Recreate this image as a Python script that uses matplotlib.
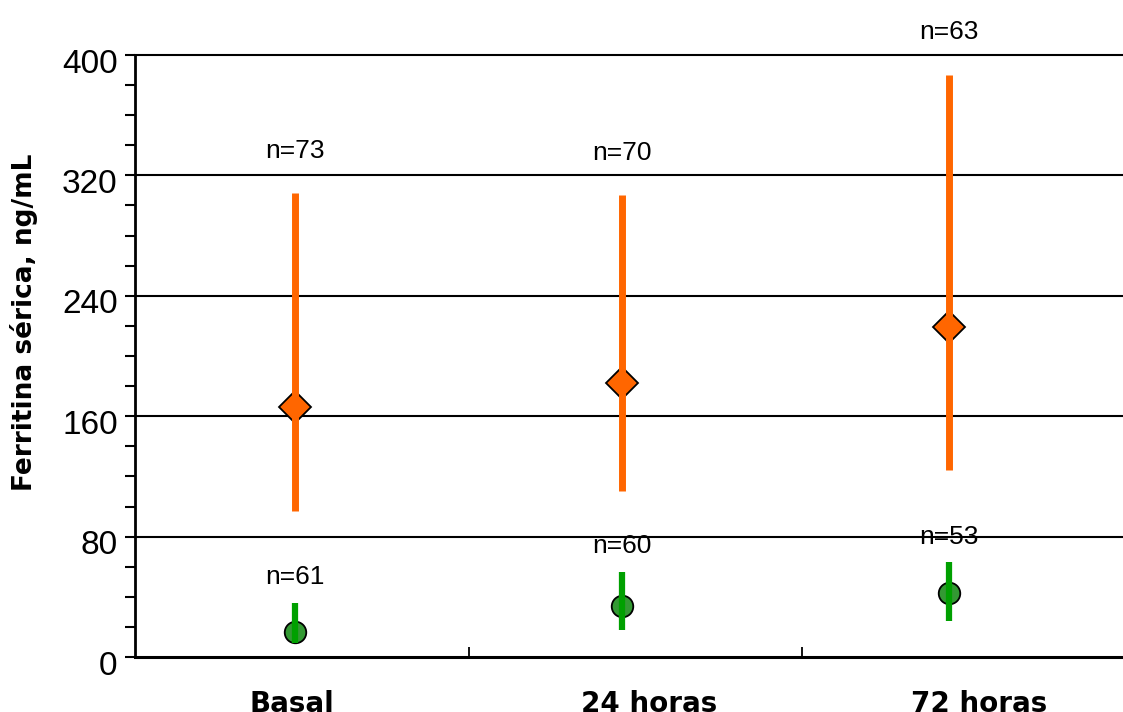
import numpy as np
import matplotlib
matplotlib.use("Agg")
from matplotlib import pyplot as plt
from matplotlib.ticker import MultipleLocator, FixedLocator, NullFormatter
import matplotlib.transforms as mtransforms

categories = ["Basal", "24 horas", "72 horas"]

# orange series (diamonds)
orange_mid = [166, 182, 219]
orange_low = [97, 110, 124]
orange_high = [308, 307, 387]
orange_n = ["n=73", "n=70", "n=63"]

# green series (circles)
green_mid = [16.5, 34, 42.5]
green_low = [9, 18, 24]
green_high = [36, 56.5, 63]
green_n = ["n=61", "n=60", "n=53"]

plt.rcParams['font.family'] = ['Liberation Sans', 'DejaVu Sans']

fig = plt.figure(figsize=(11.23, 7.12), dpi=100)
ax = fig.add_axes([135 / 1123, 55 / 712, 1001 / 1123, 602 / 712])

xpos = np.arange(len(categories)) + 0.5 - 0.02 * np.arange(1, len(categories) + 1)

orange = "#ff6600"
green_bar = "#00a000"
green_fill = "#339933"

for y in [80, 160, 240, 320, 400]:
    ax.axhline(y, color="black", lw=1.5, zorder=1, clip_on=False)

ax.plot(xpos, orange_mid, ls="none", marker="D", ms=16, mfc=orange, mec="black", mew=1.3, zorder=3)
ax.plot(xpos, green_mid, ls="none", marker="o", ms=15.5, mfc=green_fill, mec="black", mew=1.3, zorder=3)
ax.vlines(xpos, orange_low, orange_high, color=orange, lw=5, zorder=4)
ax.vlines(xpos, green_low, green_high, color=green_bar, lw=4.5, zorder=4)

for x, top, txt in zip(xpos, orange_high, orange_n):
    ax.text(x, top + 28, txt, ha="center", va="center", fontsize=19, clip_on=False)
for x, top, txt in zip(xpos, green_high, green_n):
    ax.text(x, top + 17, txt, ha="center", va="center", fontsize=19, clip_on=False)

ax.set_xlim(0, 3)
ax.set_ylim(0, 400)

ax.spines["top"].set_visible(False)
ax.spines["right"].set_visible(False)
ax.spines["left"].set_linewidth(2)
ax.spines["bottom"].set_linewidth(2.2)

ax.yaxis.set_major_locator(MultipleLocator(80))
ax.yaxis.set_minor_locator(MultipleLocator(20))
ax.tick_params(axis="y", which="major", direction="out", length=7, width=1.5, labelsize=24, pad=5.5)
ax.tick_params(axis="y", which="minor", direction="out", length=7, width=1.5)
offset = mtransforms.ScaledTranslation(0, -4 / 72, fig.dpi_scale_trans)
for lab in ax.get_yticklabels():
    lab.set_transform(lab.get_transform() + offset)

ax.xaxis.set_major_locator(FixedLocator([0.47, 1.54, 2.53]))
ax.set_xticklabels(categories, fontsize=20, fontweight="bold", family="DejaVu Sans")
ax.tick_params(axis="x", which="major", length=0, pad=24)
ax.xaxis.set_minor_locator(FixedLocator([1, 2]))
ax.xaxis.set_minor_formatter(NullFormatter())
ax.tick_params(axis="x", which="minor", direction="in", length=7, width=1.3)

ax.set_ylabel("Ferritina sérica, ng/mL", fontsize=19, fontweight="bold", family="DejaVu Sans")
ax.yaxis.set_label_coords(-0.097, 0.556)

fig.savefig("out.png", dpi=100)
